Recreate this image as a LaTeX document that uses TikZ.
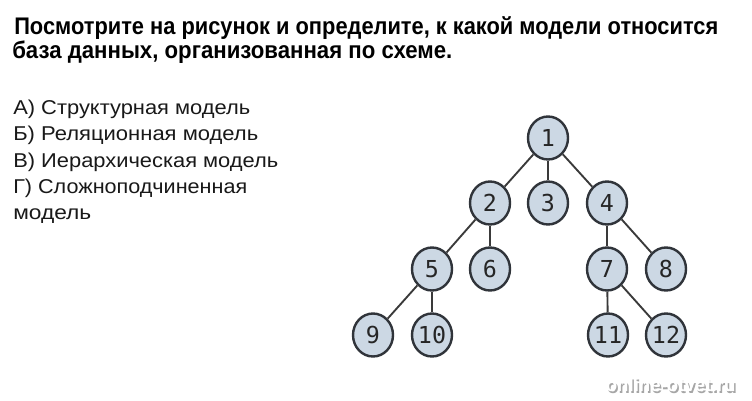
\documentclass[tikz,border=0pt]{standalone}
\usepackage{fontspec}
\setmainfont{Liberation Sans}
\newfontfamily\monofont{DejaVu Sans Mono}
\usetikzlibrary{shapes.geometric}
\pgfdeclarelayer{background}
\pgfsetlayers{background,main}
\definecolor{nodefill}{HTML}{CCD8E4}
\definecolor{nodeline}{HTML}{30343A}
\definecolor{edgeline}{HTML}{3A3A3A}
\tikzset{
  treenode/.style={ellipse, draw=nodeline, line width=1.8pt, fill=nodefill,
    minimum width=40*0.75pt, minimum height=43*0.75pt, inner sep=0pt,
    font=\monofont\fontsize{17.5pt}{17.5pt}\selectfont, text=black!85},
  treeedge/.style={draw=edgeline, line width=1.4pt},
  titletext/.style={anchor=base west, inner sep=0pt, font=\bfseries\fontsize{18pt}{18pt}\selectfont},
  opttext/.style={anchor=base west, inner sep=0pt, font=\fontsize{15pt}{15pt}\selectfont, text=black!90},
}
\begin{document}
\begin{tikzpicture}[x=0.75pt, y=-0.75pt]
\begin{pgfonlayer}{background}
\useasboundingbox[fill=white] (0,0) rectangle (752,400);
\end{pgfonlayer}
% title
\node[titletext] (t1) at (14,34) {\resizebox{528pt}{\height}{Посмотрите на рисунок и определите, к какой модели относится}};
\node[titletext] (t2) at (12,58) {\resizebox{330pt}{\height}{база данных, организованная по схеме.}};
% options
\node[opttext] (a) at (13,114) {\resizebox{177.75pt}{\height}{А) Структурная модель}};
\node[opttext] (b) at (13,140) {\resizebox{183.75pt}{\height}{Б) Реляционная модель}};
\node[opttext] (c) at (13,167) {\resizebox{198.75pt}{\height}{В) Иерархическая модель}};
\node[opttext] (d) at (13,193) {\resizebox{175.5pt}{\height}{Г) Сложноподчиненная}};
\node[opttext] (e) at (13,219) {\resizebox{58.5pt}{\height}{модель}};
% tree nodes
\node[treenode] (n1) at (548,138) {1};
\node[treenode] (n2) at (490,203) {2};
\node[treenode] (n3) at (548,203) {3};
\node[treenode] (n4) at (607,203) {4};
\node[treenode] (n5) at (432,269) {5};
\node[treenode] (n6) at (490,269) {6};
\node[treenode] (n7) at (607,269) {7};
\node[treenode] (n8) at (666,269) {8};
\node[treenode] (n9) at (373,335) {9};
\node[treenode] (n10) at (432,335) {10};
\node[treenode] (n11) at (608,335) {11};
\node[treenode] (n12) at (666,335) {12};
% edges
\begin{pgfonlayer}{background}
\draw[treeedge] (n1) -- (n2);
\draw[treeedge] (n1) -- (n3);
\draw[treeedge] (n1) -- (n4);
\draw[treeedge] (n2) -- (n5);
\draw[treeedge] (n2) -- (n6);
\draw[treeedge] (n4) -- (n7);
\draw[treeedge] (n4) -- (n8);
\draw[treeedge] (n5) -- (n9);
\draw[treeedge] (n5) -- (n10);
\draw[treeedge] (n7) -- (n11);
\draw[treeedge] (n7) -- (n12);
\end{pgfonlayer}
% watermark
\node[anchor=base west, inner sep=0pt, font=\bfseries\fontsize{14pt}{14pt}\selectfont, text=black!35] (wms) at (607,393) {online-otvet.ru};
\node[anchor=base west, inner sep=0pt, font=\bfseries\fontsize{14pt}{14pt}\selectfont, text=white] (wm) at (605.5,391.5) {online-otvet.ru};
\end{tikzpicture}
\end{document}
